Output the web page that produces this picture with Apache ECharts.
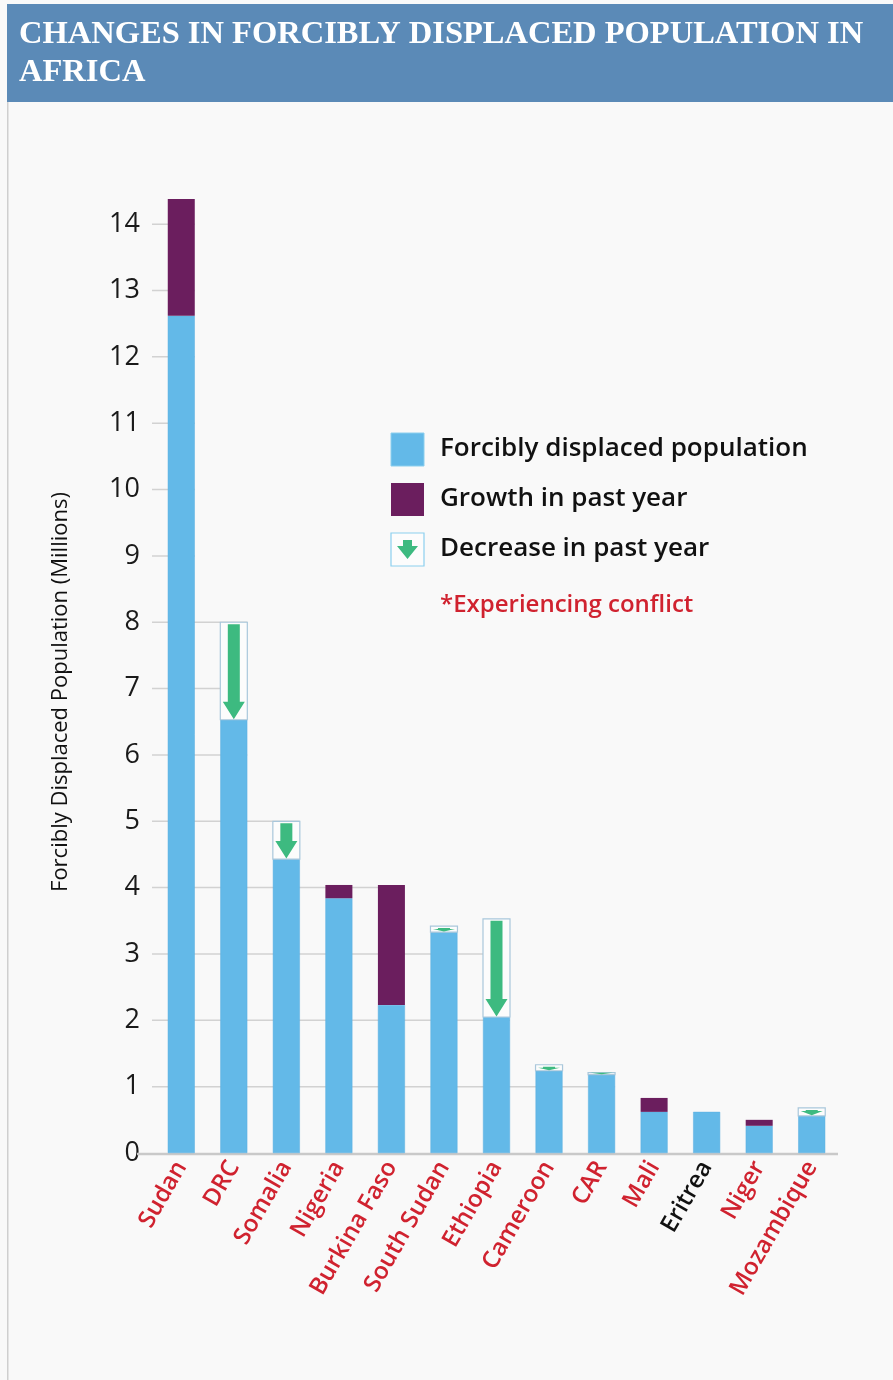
<!DOCTYPE html>
<html><head><meta charset="utf-8">
<script src="https://cdn.jsdelivr.net/npm/echarts@6/dist/echarts.min.js"></script>
<style>html,body{margin:0;padding:0;background:#f9f9f9;}#c{width:893px;height:1380px;}</style>
</head><body><div id="c"></div>
<script>
const countries = ['Sudan','DRC','Somalia','Nigeria','Burkina Faso','South Sudan','Ethiopia','Cameroon','CAR','Mali','Eritrea','Niger','Mozambique'];
const conflict = [true,true,true,true,true,true,true,true,true,true,false,true,true];
const current = [12.62, 6.53, 4.43, 3.84, 2.23, 3.33, 2.05, 1.24, 1.18, 0.62, 0.62, 0.41, 0.56];
const growth  = [1.76, 0, 0, 0.20, 1.81, 0, 0, 0, 0, 0.21, 0, 0.09, 0];
const previous = [null, 8.0, 5.0, null, null, 3.42, 3.53, 1.33, 1.21, null, null, null, 0.68];
const yTicks = [0,1,2,3,4,5,6,7,8,9,10,11,12,13,14];

const BLUE = '#63b9e8', PURPLE = '#6b1e5e', GREEN = '#3dba80', RED = '#d0222f';
const BAR_RATIO = 0.514;
const totals = countries.map((c,i)=>Math.max(current[i]+growth[i], previous[i]||0));

const chart = echarts.init(document.getElementById('c'));
const decData = [];
previous.forEach((p,i)=>{ if(p!==null) decData.push([i, current[i], p]); });

chart.setOption({
  backgroundColor: '#f9f9f9',
  animation: false,
  grid: {left: 155, right: 55, top: 191, bottom: 227},
  xAxis: {
    type: 'category', data: countries,
    axisLine: {show: false}, axisTick: {show: false},
    axisLabel: {
      rotate: 60, margin: 10, interval: 0,
      fontFamily: 'Open Sans', fontSize: 24, fontWeight: 600,
      color: (v, idx) => conflict[countries.indexOf(v)] ? RED : '#111'
    }
  },
  yAxis: {
    type: 'value', min: 0, max: 14.5, interval: 1,
    axisLine: {show: false}, axisTick: {show: false}, splitLine: {show: false},
    axisLabel: {
      margin: 15, fontFamily: 'Open Sans', fontSize: 27, color: '#1a1a1a',
      formatter: v => Number.isInteger(v) ? String(v) : ''
    }
  },
  series: [
    {
      type: 'custom', z: 1, silent: true,
      data: yTicks,
      renderItem: (params, api) => {
        const v = api.value(0);
        const cs = params.coordSys;
        const y = api.coord([0, v])[1];
        if (v === 0) {
          return {type: 'line', shape: {x1: 137, y1: y + 1, x2: cs.x + cs.width, y2: y + 1},
                  style: {stroke: '#c9c9c9', lineWidth: 2.5}};
        }
        let last = -1;
        totals.forEach((t,i)=>{ if (t >= v) last = i; });
        if (last < 0) return null;
        const bw = api.size([1,0])[0];
        const xr = api.coord([last, v])[0] + bw*BAR_RATIO/2;
        return {type: 'line', shape: {x1: cs.x - 3, y1: y, x2: xr, y2: y},
                style: {stroke: '#d2d2d2', lineWidth: 1.5}};
      }
    },
    {
      name: 'Forcibly displaced population', type: 'bar', stack: 's', z: 3,
      barWidth: '51.4%', data: current,
      itemStyle: {color: BLUE, borderColor: '#5aaee0', borderWidth: 0.5}
    },
    {
      name: 'Growth in past year', type: 'bar', stack: 's', z: 3,
      barWidth: '51.4%', data: growth,
      itemStyle: {color: PURPLE}
    },
    {
      type: 'custom', z: 4, silent: true,
      data: decData,
      renderItem: (params, api) => {
        const i = api.value(0), cur = api.value(1), prev = api.value(2);
        const pt = api.coord([i, prev]), pb = api.coord([i, cur]);
        const cx = pt[0];
        const w = api.size([1,0])[0]*BAR_RATIO;
        const top = pt[1], bot = pb[1];
        const h = bot - top;
        const headH = Math.max(2, Math.min(18, h - 3));
        const shaftTop = top + 2;
        const neck = bot - headH;
        const sw = 6, hw = 11;
        const pts = [[cx-sw, Math.min(shaftTop, neck)], [cx+sw, Math.min(shaftTop, neck)], [cx+sw, neck], [cx+hw, neck],
                     [cx, bot - 0.5], [cx-hw, neck], [cx-sw, neck]];
        return {type: 'group', children: [
          {type: 'rect', shape: {x: cx - w/2, y: top, width: w, height: h},
           style: {fill: '#fcfcfc', stroke: '#a9c7db', lineWidth: 1.2}},
          {type: 'polygon', shape: {points: pts}, style: {fill: GREEN}}
        ]};
      }
    }
  ],
  graphic: [
    {type: 'rect', shape: {x: 7, y: 102, width: 1.5, height: 1278}, style: {fill: '#cfcfcf'}},
    {type: 'rect', shape: {x: 7, y: 4, width: 886, height: 98}, style: {fill: '#5b8ab7'}},
    {type: 'text', x: 19, y: 16, style: {text: 'CHANGES IN FORCIBLY DISPLACED POPULATION IN\nAFRICA',
      fill: '#fff', font: 'bold 32.5px "Liberation Serif"', lineHeight: 38}},
    {type: 'text', x: 61, y: 692, rotation: Math.PI/2,
     style: {text: 'Forcibly Displaced Population (Millions)', fill: '#111', font: '22px "Open Sans"',
             align: 'center', verticalAlign: 'middle'}},
    {type: 'rect', shape: {x: 391, y: 433, width: 33, height: 33}, style: {fill: BLUE, stroke: '#8ccfee', lineWidth: 1}},
    {type: 'text', x: 440, y: 449, style: {text: 'Forcibly displaced population', fill: '#111',
      font: '600 26px "Open Sans"', verticalAlign: 'middle'}},
    {type: 'rect', shape: {x: 391, y: 483, width: 33, height: 33}, style: {fill: PURPLE}},
    {type: 'text', x: 440, y: 499, style: {text: 'Growth in past year', fill: '#111',
      font: '600 26px "Open Sans"', verticalAlign: 'middle'}},
    {type: 'rect', shape: {x: 391, y: 533, width: 33, height: 33}, style: {fill: '#fcfcfc', stroke: '#8ccfee', lineWidth: 1.2}},
    {type: 'polygon', shape: {points: [[403,540],[412,540],[412,546],[418,546],[407.5,559],[397,546],[403,546]]}, style: {fill: GREEN}},
    {type: 'text', x: 440, y: 549, style: {text: 'Decrease in past year', fill: '#111',
      font: '600 26px "Open Sans"', verticalAlign: 'middle'}},
    {type: 'text', x: 440, y: 605, style: {text: '*Experiencing conflict', fill: RED,
      font: '600 24px "Open Sans"', verticalAlign: 'middle'}}
  ]
});
</script></body></html>
